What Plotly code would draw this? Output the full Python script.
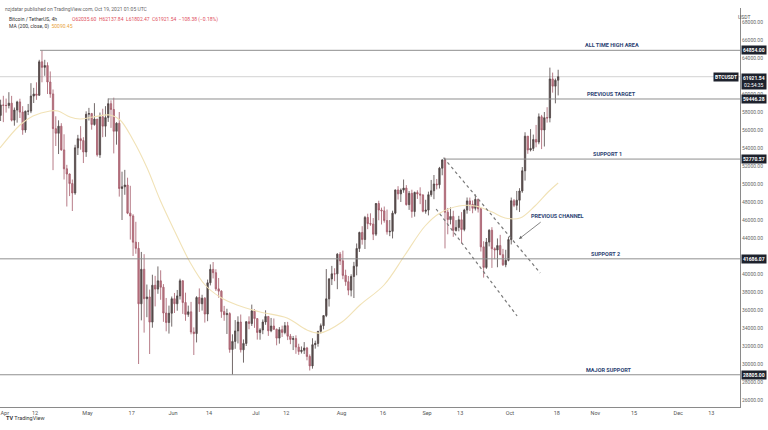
import plotly.graph_objects as go
import pandas as pd

# ---------------- data (daily aggregation of BTC/USDT) ----------------
start_day = "2021-03-30"

opens = [
    57622, 58784,
    # Apr
    58740, 58720, 58981, 57094, 58216, 59124, 57988, 56000, 58088, 58100, 59770, 60000, 59860, 63577, 62959,
    63159, 61334, 60006, 56150, 55633, 56425, 53787, 51690, 51110, 50050, 49004, 54021, 55033, 54824, 53555,
    # May
    57750, 57828, 56610, 57213, 53241, 57473, 56428, 57380, 58928, 58280, 55860, 56753, 49500, 49690, 49880,
    46760, 46450, 43538, 42849, 36690, 40526, 37252, 37449, 34655, 38750, 38324, 39241, 38529, 35664, 34605, 35641,
    # Jun
    37253, 36694, 37568, 39246, 36829, 35513, 35796, 33552, 33380, 37389, 36693, 37313, 35551, 39020, 40516,
    40144, 38349, 38092, 35820, 35483, 35600, 31608, 32509, 33676, 34663, 31576, 32283, 34700, 34494, 35911,
    # Jul
    35045, 33502, 33786, 34669, 35288, 33690, 34220, 33863, 32875, 33815, 33502, 34259, 33086, 32729, 32820,
    31874, 31383, 31520, 31778, 30839, 29790, 32144, 32287, 33634, 34258, 35381, 37237, 39457, 40019, 40016, 42206,
    # Aug
    41461, 39850, 39146, 38207, 39723, 40862, 42836, 44614, 43829, 46280, 45601, 45551, 44428, 47834, 47110,
    47015, 45936, 44686, 44741, 46763, 49339, 48906, 49321, 49547, 47706, 48960, 46942, 49058, 48898, 48768, 46970,
    # Sep
    47100, 48810, 49247, 50000, 49918, 51757, 52666, 46868, 46048, 46396, 44842, 45173, 46026, 44950, 47103,
    48121, 47737, 47299, 48292, 47241, 43016, 40734, 43546, 44865, 42810, 42670, 43160, 42147, 41026, 41522,
    # Oct
    43820, 48141, 47632, 48200, 49225, 51472, 55316, 53785, 53955, 54950, 54660, 57471, 56006, 57372, 57347,
    61673, 60875, 61529,
]
highs = [
    59368, 59800,
    59490, 60200, 59791, 58500, 59251, 59475, 58650, 58153, 58894, 61200, 60680, 61300, 63800, 64854, 63800,
    63520, 62506, 60499, 57526, 57076, 56757, 55521, 52130, 51166, 50500, 54356, 55460, 56428, 55200, 58075,
    58458, 57900, 58981, 57214, 57939, 58360, 58650, 59500, 59300, 59592, 56862, 58000, 51367, 51570, 50700,
    49800, 46643, 45800, 43546, 42451, 42200, 38829, 38270, 39920, 39791, 40841, 40411, 38877, 37338, 36488, 37499,
    37894, 38225, 39476, 39289, 37926, 36488, 36900, 34068, 37534, 38400, 37691, 37439, 39380, 41064, 41330,
    40527, 39559, 38202, 36457, 36137, 35750, 33298, 34881, 35298, 35500, 32730, 34749, 35297, 36600, 36100,
    35057, 33977, 34945, 35967, 35293, 35118, 35059, 33929, 34100, 34262, 34666, 34679, 33340, 33114, 33185,
    32249, 31955, 32435, 31899, 31063, 32858, 32591, 33650, 34500, 35398, 40550, 39542, 40900, 40640, 42316, 42448,
    42599, 40480, 39780, 39969, 41350, 43392, 44700, 45310, 46454, 46700, 46743, 46218, 47886, 48144, 47372,
    47500, 47160, 46000, 47033, 49382, 49757, 49500, 50500, 49876, 49226, 49368, 49156, 49300, 49632, 48888, 48246,
    49150, 50450, 51000, 50558, 51900, 52780, 52920, 47340, 47399, 47031, 45987, 46460, 46876, 47250, 48500,
    48490, 48177, 48843, 48373, 47347, 43639, 44000, 44978, 45200, 42966, 43950, 44350, 42787, 42690, 44141,
    48495, 48336, 49228, 49536, 51886, 55750, 55332, 56100, 55489, 56561, 57839, 57680, 58000, 58532, 62933,
    62378, 61718, 62695,
]
lows = [
    57000, 56874,
    57935, 58400, 56954, 56478, 56817, 57333, 55473, 55700, 57654, 57873, 59000, 59350, 59800, 61301, 62020,
    60000, 59580, 51541, 54221, 53329, 53695, 50500, 47500, 48657, 47000, 48800, 53222, 53813, 52330, 53013,
    57052, 56035, 56478, 53046, 52900, 55200, 55250, 56900, 56235, 53400, 54370, 48600, 46000, 48800, 46650,
    43825, 42001, 42250, 30000, 34850, 33488, 35200, 31111, 34031, 36400, 37800, 37134, 34684, 33632, 33379, 34153,
    35666, 35920, 37170, 35567, 34800, 35242, 33300, 31000, 32396, 35782, 35936, 34600, 34757, 38730, 39506,
    38116, 37365, 35129, 34803, 33336, 31251, 28805, 31684, 32286, 31275, 30151, 32000, 33862, 34225, 34017,
    32711, 32699, 33316, 34357, 33125, 33532, 33777, 32077, 32261, 33004, 33306, 32658, 32202, 31550, 31133,
    31020, 31164, 31108, 30407, 29278, 29482, 31708, 31925, 33401, 33851, 35205, 36383, 38772, 39200, 38313, 41000,
    39422, 38690, 37642, 37508, 37332, 39853, 42446, 43261, 42779, 44980, 45352, 43770, 44217, 45971, 45500,
    45700, 44376, 44203, 43955, 46631, 48273, 48000, 49028, 47600, 47123, 46250, 46370, 48345, 47762, 46853, 46700,
    46512, 48584, 48316, 49400, 49500, 50969, 42843, 44412, 45513, 44132, 44722, 44742, 43370, 44750, 46700,
    47005, 46750, 47050, 46829, 42500, 39600, 40565, 43069, 40675, 41646, 40750, 42098, 40888, 40753, 41410,
    43283, 47430, 47088, 46891, 49022, 50382, 53357, 53617, 53661, 54080, 54415, 53879, 54167, 56818, 56850,
    60150, 58963, 59844,
]
closes = [
    58784, 58740,
    58720, 58981, 57094, 58216, 59124, 57988, 56000, 58088, 58100, 59770, 60000, 59860, 63577, 62959, 63159,
    61334, 60006, 56150, 55633, 56425, 53787, 51690, 51110, 50050, 49004, 54021, 55033, 54824, 53555, 57750,
    57828, 56610, 57213, 53241, 57473, 56428, 57380, 58928, 58280, 55860, 56753, 49500, 49690, 49880, 46760,
    46450, 43538, 42849, 36690, 40526, 37252, 37449, 34655, 38750, 38324, 39241, 38529, 35664, 34605, 35641, 37253,
    36693, 37568, 39246, 36829, 35513, 35796, 33552, 33380, 37389, 36693, 37313, 35551, 39020, 40516, 40144,
    38349, 38092, 35820, 35483, 35600, 31608, 32509, 33678, 34663, 31584, 32283, 34700, 34494, 35911, 35045,
    33504, 33786, 34669, 35286, 33690, 34220, 33862, 32875, 33815, 33502, 34259, 33086, 32729, 32820, 31880,
    31383, 31520, 31778, 30839, 29790, 32144, 32287, 33634, 34258, 35381, 37237, 39457, 40019, 40016, 42206, 41461,
    39845, 39147, 38207, 39723, 40862, 42836, 44614, 43829, 46286, 45595, 45551, 44428, 47833, 47109, 47015,
    45936, 44686, 44742, 46763, 49339, 48905, 49321, 49546, 47706, 48960, 46942, 49058, 48897, 48767, 46970, 47100,
    48810, 49246, 49999, 49915, 51756, 52663, 46863, 46048, 46395, 44851, 45173, 46026, 44940, 47111, 48122,
    47738, 47299, 48292, 47241, 43015, 40734, 43543, 44865, 42810, 42670, 43160, 42147, 41026, 41524, 43824,
    48141, 47634, 48200, 49224, 51471, 55315, 53785, 53951, 54949, 54659, 57471, 56006, 57367, 57347, 61672,
    60875, 61529, 61921,
]
assert len(opens) == len(highs) == len(lows) == len(closes), (len(opens), len(highs), len(lows), len(closes))

# MA(200) on 4h
ma_dates = [
    "2021-03-30 07:00", "2021-04-06 13:00", "2021-04-11 06:00", "2021-04-17 10:00", "2021-04-20 07:00",
    "2021-04-24 16:00", "2021-04-28 07:00", "2021-05-03 00:00", "2021-05-09 04:00", "2021-05-12 19:00",
    "2021-05-17 12:00", "2021-05-22 14:00", "2021-05-27 07:00", "2021-06-01 17:00", "2021-06-07 02:00",
    "2021-06-12 14:00", "2021-06-18 00:00", "2021-06-24 04:00", "2021-07-02 12:00", "2021-07-12 07:00",
    "2021-07-19 12:00", "2021-07-24 05:00", "2021-08-01 04:00", "2021-08-07 17:00", "2021-08-16 10:00",
    "2021-08-24 00:00", "2021-08-31 07:00", "2021-09-05 17:00", "2021-09-12 14:00", "2021-09-18 10:00",
    "2021-09-24 14:00", "2021-09-29 07:00", "2021-10-04 17:00", "2021-10-10 02:00", "2021-10-14 21:00",
    "2021-10-18 12:00",
]
ma_values = [
    54000, 56556, 57556, 58111, 58111,
    57444, 57222, 57444, 57667, 57111,
    54889, 51778, 48222, 44667, 41333,
    38778, 37444, 36556, 35778, 35111,
    33778, 33444, 34667, 36556, 38778,
    42111, 45333, 46778, 47556, 47556,
    46889, 46222, 46222, 47556, 49111,
    50111,
]

# horizontal levels drawn on the chart
level_names = ["ALL TIME HIGH AREA", "PREVIOUS TARGET", "SUPPORT 1", "SUPPORT 2", "MAJOR SUPPORT"]
level_prices = [64854.00, 59446.28, 52770.57, 41686.07, 28805.00]
level_starts = ["2021-04-13 19:00", "2021-05-08 10:00", "2021-09-07 00:00", None, None]

# descending channel (two dashed lines): start/end date and price
channel_upper = (["2021-09-07 00:00", "2021-10-12 00:00"], [52920, 40111])
channel_lower = (["2021-09-04 07:00", "2021-10-03 15:00"], [47222, 35333])

last_price = 61921.54
countdown = "02:54:35"
ma_last = "50090.45"

x_tick_dates = ["2021-04-01", "2021-04-12", "2021-05-01", "2021-05-17", "2021-06-01", "2021-06-14",
                "2021-07-01", "2021-07-12", "2021-08-01", "2021-08-16", "2021-09-01", "2021-09-13",
                "2021-10-01", "2021-10-18", "2021-11-01", "2021-11-15", "2021-12-01", "2021-12-13"]
x_tick_text = ["Apr", "12", "May", "17", "Jun", "14", "Jul", "12", "Aug", "16", "Sep", "13",
               "Oct", "18", "Nov", "15", "Dec", "13"]
# price-scale labels (those hidden behind the price boxes are left out, as on the reference)
y_ticks = [v for v in range(26000, 68001, 2000) if v not in (42000, 62000)]

# ---------------- figure ----------------
W, H = 768, 430
PL, PR, PT, PB = 0, 740, 8, 407  # plot area in pixels
x_range = ["2021-03-30 07:00", "2021-12-23 09:00"]
y_range = [25222, 69556]

def px(xp):
    return (xp - PL) / (PR - PL)

def py(yp):
    return (PB - yp) / (PB - PT)

FONT = "Roboto"
days = pd.date_range(start_day, periods=len(closes), freq="D")

fig = go.Figure()
fig.add_trace(go.Scatter(x=ma_dates, y=ma_values, mode="lines",
                         line=dict(color="#f1e2b6", width=1.1, shape="spline", smoothing=1.0),
                         hoverinfo="skip", showlegend=False))
fig.add_trace(go.Candlestick(
    x=days, open=opens, high=highs, low=lows, close=closes,
    xperiod=86400000, xperiodalignment="middle",
    increasing=dict(line=dict(color="#4f4444", width=0.8), fillcolor="#5a4e4e"),
    decreasing=dict(line=dict(color="#a55b69", width=0.8), fillcolor="#bd7b87"),
    whiskerwidth=0, showlegend=False))

shapes = []
# current price line
shapes.append(dict(type="line", xref="x", yref="y", x0=x_range[0], x1=x_range[1],
                   y0=last_price, y1=last_price, line=dict(color="#d2d2d2", width=1), layer="below"))
for name, lvl, st in zip(level_names, level_prices, level_starts):
    shapes.append(dict(type="line", xref="x", yref="y", x0=st if st else x_range[0], x1=x_range[1],
                       y0=lvl, y1=lvl, line=dict(color="#8f8f8f", width=1)))
for (cx, cy) in (channel_upper, channel_lower):
    shapes.append(dict(type="line", xref="x", yref="y", x0=cx[0], x1=cx[1], y0=cy[0], y1=cy[1],
                       line=dict(color="#7a7a7a", width=1.2, dash="dot")))

ann = []
label_col = "#2b4272"
label_x = ["2021-11-06 23:00", "2021-11-06 16:00", "2021-11-05 05:00", "2021-11-04 12:00", "2021-11-05 23:00"]
for name, lvl, lx in zip(level_names, level_prices, label_x):
    ann.append(dict(x=lx, y=lvl, xref="x", yref="y", text="<b>%s</b>" % name, showarrow=False,
                    yshift=5, font=dict(family=FONT, size=5.5, color=label_col)))
ann.append(dict(x="2021-10-18 02:00", y=46444, xref="x", yref="y", text="<b>PREVIOUS CHANNEL</b>",
                showarrow=False, font=dict(family=FONT, size=5.5, color=label_col)))
# arrow
ann.append(dict(x="2021-10-04 07:00", y=43889, ax="2021-10-12 17:00", ay=45889, xref="x", yref="y",
                axref="x", ayref="y", text="", showarrow=True, arrowhead=2, arrowsize=0.8,
                arrowwidth=0.8, arrowcolor="#666666"))

# price boxes on the right axis
box_bg = "#1e222d"
for lvl in level_prices:
    ann.append(dict(x=1, y=lvl, xref="paper", yref="y", xanchor="left", xshift=1,
                    text="<b>%.2f</b>" % lvl, showarrow=False, bgcolor=box_bg, borderpad=1,
                    font=dict(family=FONT, size=5, color="white")))
ann.append(dict(x=1, y=last_price, xref="paper", yref="y", xanchor="left", yanchor="top", xshift=1, yshift=4,
                text="<b>%.2f</b><br>%s" % (last_price, countdown), showarrow=False, bgcolor=box_bg,
                borderpad=1, font=dict(family=FONT, size=5, color="white")))
ann.append(dict(x=1, y=last_price, xref="paper", yref="y", xanchor="right", xshift=-1,
                text="<b>BTCUSDT</b>", showarrow=False, bgcolor=box_bg, borderpad=1,
                font=dict(family=FONT, size=5, color="white")))
ann.append(dict(x=px(752), y=py(12), xref="paper", yref="paper", text="USDT", showarrow=False,
                font=dict(family=FONT, size=5, color="#555555")))

# header texts
ann.append(dict(x=px(3), y=py(4), xref="paper", yref="paper", xanchor="left",
                text="nzjdatar published on TradingView.com, Oct 19, 2021 01:05 UTC", showarrow=False,
                font=dict(family=FONT, size=5, color="#666666")))
ann.append(dict(x=px(7), y=py(14), xref="paper", yref="paper", xanchor="left",
                text="Bitcoin / TetherUS, 4h", showarrow=False,
                font=dict(family=FONT, size=5, color="#333333")))
ann.append(dict(x=px(70), y=py(14), xref="paper", yref="paper", xanchor="left",
                text="O62035.60  H62137.84  L61802.47  C61921.54  \u2212108.38 (\u22120.18%)", showarrow=False,
                font=dict(family=FONT, size=5, color="#e0505e")))
ann.append(dict(x=px(7), y=py(21), xref="paper", yref="paper", xanchor="left",
                text="MA (200, close, 0)  <span style='color:#e8a33c'>%s</span>" % ma_last, showarrow=False,
                font=dict(family=FONT, size=5, color="#333333")))
ann.append(dict(x=px(4), y=py(423), xref="paper", yref="paper", xanchor="left",
                text="<b>TV</b> TradingView", showarrow=False,
                font=dict(family=FONT, size=5.5, color="#333333")))

fig.update_layout(
    width=W, height=H, margin=dict(l=PL, r=W - PR, t=PT, b=H - PB),
    paper_bgcolor="white", plot_bgcolor="white",
    shapes=shapes, annotations=ann, showlegend=False,
    xaxis=dict(type="date", range=x_range, rangeslider=dict(visible=False), showgrid=False, zeroline=False,
               tickmode="array", tickvals=x_tick_dates, ticktext=x_tick_text, ticks="",
               tickfont=dict(family=FONT, size=5.5, color="#555555"),
               showline=True, linecolor="#8a8a8a", linewidth=1),
    yaxis=dict(range=y_range, side="right", showgrid=False, zeroline=False, tickmode="array",
               tickvals=y_ticks, tickformat=".2f", ticks="",
               tickfont=dict(family=FONT, size=5, color="#666666"),
               showline=True, linecolor="#8a8a8a", linewidth=1),
)

fig.write_html("out.html")
